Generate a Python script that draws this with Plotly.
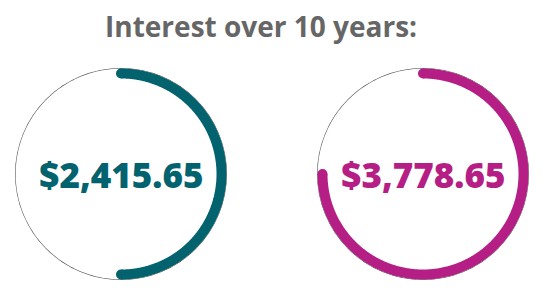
import numpy as np
import plotly.graph_objects as go

title_text = "Interest over 10 years:"
amounts = [2415.65, 3778.65]
fill_fractions = [0.50, 0.75]
colors = ["#02636f", "#b51e84"]

W, H = 544, 295
R = 106
centers = [(121, 174), (423, 174)]

fig = go.Figure()
for i, (amt, frac, col) in enumerate(zip(amounts, fill_fractions, colors)):
    pid = "polar" if i == 0 else f"polar{i+1}"
    sub = pid
    full = np.linspace(0, 360, 361)
    fig.add_trace(go.Scatterpolar(r=np.ones_like(full), theta=full, mode="lines",
                                  line=dict(color="#5a5a5a", width=1.3), subplot=sub,
                                  hoverinfo="skip", showlegend=False))
    arc = np.linspace(0, 360 * frac, 400)
    rr = 1 - 5.5 / R
    fig.add_trace(go.Scatterpolar(r=np.full_like(arc, rr), theta=arc, mode="lines",
                                  line=dict(color=col, width=10), subplot=sub,
                                  hoverinfo="skip", showlegend=False))
    fig.add_trace(go.Scatterpolar(r=[rr, rr], theta=[arc[0], arc[-1]], mode="markers",
                                  marker=dict(color=col, size=10, line=dict(width=0)),
                                  subplot=sub, hoverinfo="skip", showlegend=False))
    cx, cy = centers[i]
    dom = dict(x=[(cx - R) / W, (cx + R) / W], y=[(H - cy - R) / H, (H - cy + R) / H])
    fig.update_layout(**{pid: dict(
        domain=dom, bgcolor="rgba(0,0,0,0)",
        radialaxis=dict(range=[0, 1], visible=False, showgrid=False),
        angularaxis=dict(visible=False, showgrid=False, rotation=90, direction="clockwise"),
    )})
    fig.add_annotation(x=(cx) / W, y=(H - cy) / H, xref="paper", yref="paper",
                       text=f"${amt:,.2f}", showarrow=False,
                       font=dict(family="Open Sans ExtraBold, Open Sans", size=35, color=col, weight=800),
                       xanchor="center", yanchor="middle")

fig.add_annotation(x=261 / W, y=(H - 26) / H, xref="paper", yref="paper",
                   text=title_text, showarrow=False,
                   font=dict(family="Open Sans", size=28, color="#666666", weight=700),
                   xanchor="center", yanchor="middle")

fig.update_layout(width=W, height=H, margin=dict(l=0, r=0, t=0, b=0),
                  paper_bgcolor="white", plot_bgcolor="white")
fig.write_html("out.html")
